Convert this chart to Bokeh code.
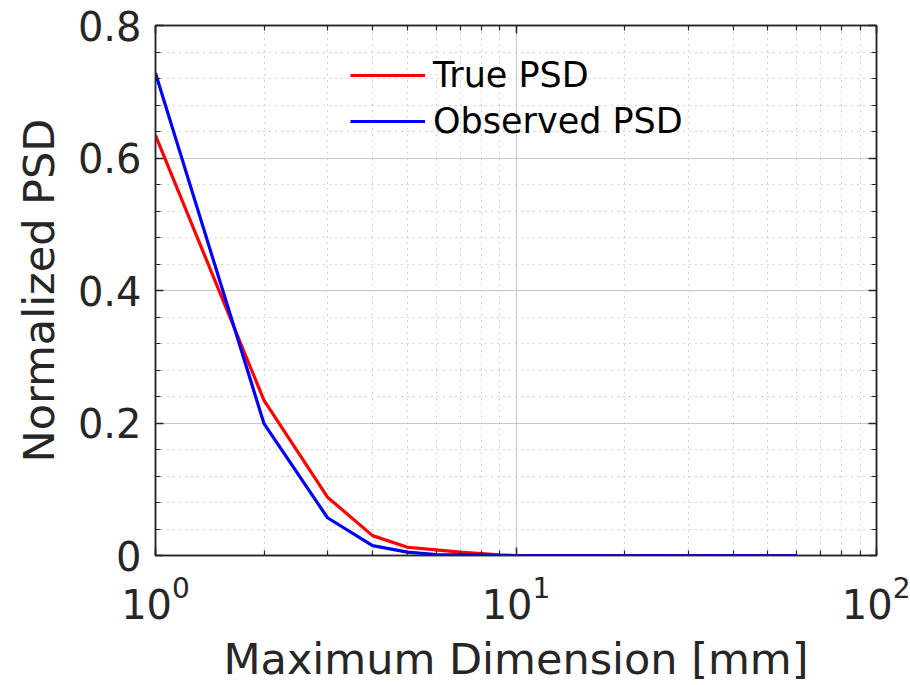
from bokeh.plotting import figure
from bokeh.models import LinearAxis, LogAxis, Legend, LegendItem, BasicTicker, Range1d
from bokeh.embed import file_html
from bokeh.resources import INLINE

# Size bins [mm]
max_dimension = [1, 2, 3, 4, 5, 6, 7, 8, 9, 10,
                 11, 12, 13, 14, 15, 16, 17, 18, 19, 20,
                 21, 22, 23, 24, 25, 26, 27, 28, 29, 30,
                 31, 32, 33, 34, 35, 36, 37, 38, 39, 40,
                 41, 42, 43, 44, 45, 46, 47, 48, 49, 50,
                 51, 52, 53, 54, 55, 56, 57, 58, 59, 60]

true_psd = [0.634, 0.234, 0.088, 0.030, 0.0125, 0.0085, 0.005, 0.003, 0.001, 0.0,
            0.0, 0.0, 0.0, 0.0, 0.0, 0.0, 0.0, 0.0, 0.0, 0.0,
            0.0, 0.0, 0.0, 0.0, 0.0, 0.0, 0.0, 0.0, 0.0, 0.0,
            0.0, 0.0, 0.0, 0.0, 0.0, 0.0, 0.0, 0.0, 0.0, 0.0,
            0.0, 0.0, 0.0, 0.0, 0.0, 0.0, 0.0, 0.0, 0.0, 0.0,
            0.0, 0.0, 0.0, 0.0, 0.0, 0.0, 0.0, 0.0, 0.0, 0.0]

observed_psd = [0.728, 0.199, 0.057, 0.015, 0.005, 0.0015, 0.001, 0.0005, 0.0, 0.0,
                0.0, 0.0, 0.0, 0.0, 0.0, 0.0, 0.0, 0.0, 0.0, 0.0,
                0.0, 0.0, 0.0, 0.0, 0.0, 0.0, 0.0, 0.0, 0.0, 0.0,
                0.0, 0.0, 0.0, 0.0, 0.0, 0.0, 0.0, 0.0, 0.0, 0.0,
                0.0, 0.0, 0.0, 0.0, 0.0, 0.0, 0.0, 0.0, 0.0, 0.0,
                0.0, 0.0, 0.0, 0.0, 0.0, 0.0, 0.0, 0.0, 0.0, 0.0]

FONT = "DejaVu Sans"
TXT = "#262626"

p = figure(
    x_axis_type="log",
    x_range=Range1d(1, 100),
    y_range=Range1d(0, 0.8),
    frame_width=721, frame_height=530,
    min_border_left=155, min_border_right=34,
    min_border_top=25, min_border_bottom=130,
    output_backend="svg", toolbar_location=None,
    background_fill_color="white", border_fill_color="white",
)
p.outline_line_color = TXT
p.outline_line_width = 1.5

# grids: solid major, dotted minor
for g in (p.xgrid[0], p.ygrid[0]):
    g.grid_line_color = "#c8c8c8"
    g.grid_line_width = 1
    g.minor_grid_line_color = "#a8a8a8"
    g.minor_grid_line_width = 1
    g.minor_grid_line_dash = "1 5"

yticker = BasicTicker(desired_num_ticks=5, num_minor_ticks=5, min_interval=0.2, max_interval=0.2)
p.yaxis[0].ticker = yticker
p.ygrid[0].ticker = yticker

def style_axis(ax, labels=True):
    ax.axis_line_color = TXT
    ax.axis_line_width = 1.5
    ax.major_tick_line_color = TXT
    ax.minor_tick_line_color = TXT
    ax.major_tick_line_width = 1.5
    ax.minor_tick_line_width = 1.2
    ax.major_tick_in = 8
    ax.major_tick_out = 0
    ax.minor_tick_in = 5
    ax.minor_tick_out = 0
    ax.major_label_text_font = FONT
    ax.major_label_text_color = TXT
    ax.major_label_text_font_size = "40px"
    ax.axis_label_text_font = FONT
    ax.axis_label_text_color = TXT
    ax.axis_label_text_font_size = "43px"
    ax.axis_label_text_font_style = "normal"
    if not labels:
        ax.major_label_text_font_size = "0px"
        ax.major_label_text_alpha = 0

xa = p.xaxis[0]
ya = p.yaxis[0]
style_axis(xa)
style_axis(ya)
xa.axis_label = "Maximum Dimension [mm]"
ya.axis_label = "Normalized PSD"
xa.major_label_standoff = 20
xa.axis_label_standoff = 12
ya.major_label_standoff = 14
ya.axis_label_standoff = 11
ya.major_label_overrides = {0: "0", 0.2: "0.2", 0.4: "0.4", 0.6: "0.6", 0.8: "0.8"}

# box edges on top and right with inward ticks
top = LogAxis(ticker=xa.ticker)
style_axis(top, labels=False)
p.add_layout(top, "above")
right = LinearAxis(ticker=yticker)
style_axis(right, labels=False)
p.add_layout(right, "right")

r_true = p.line(max_dimension, true_psd, line_color="#ff0000", line_width=3.2)
r_obs = p.line(max_dimension, observed_psd, line_color="#0000ff", line_width=3.2)

legend = Legend(
    items=[LegendItem(label="True PSD", renderers=[r_true]),
           LegendItem(label="Observed PSD", renderers=[r_obs])],
    location=(195, 414),
    padding=0, margin=0, spacing=6,
    glyph_width=75, glyph_height=40, label_height=40,
    label_standoff=8,
    label_text_font=FONT, label_text_font_size="35px", label_text_color="#000000",
    border_line_alpha=0, background_fill_alpha=0,
)
p.add_layout(legend, "center")

open("out.html", "w").write(file_html(p, INLINE))
